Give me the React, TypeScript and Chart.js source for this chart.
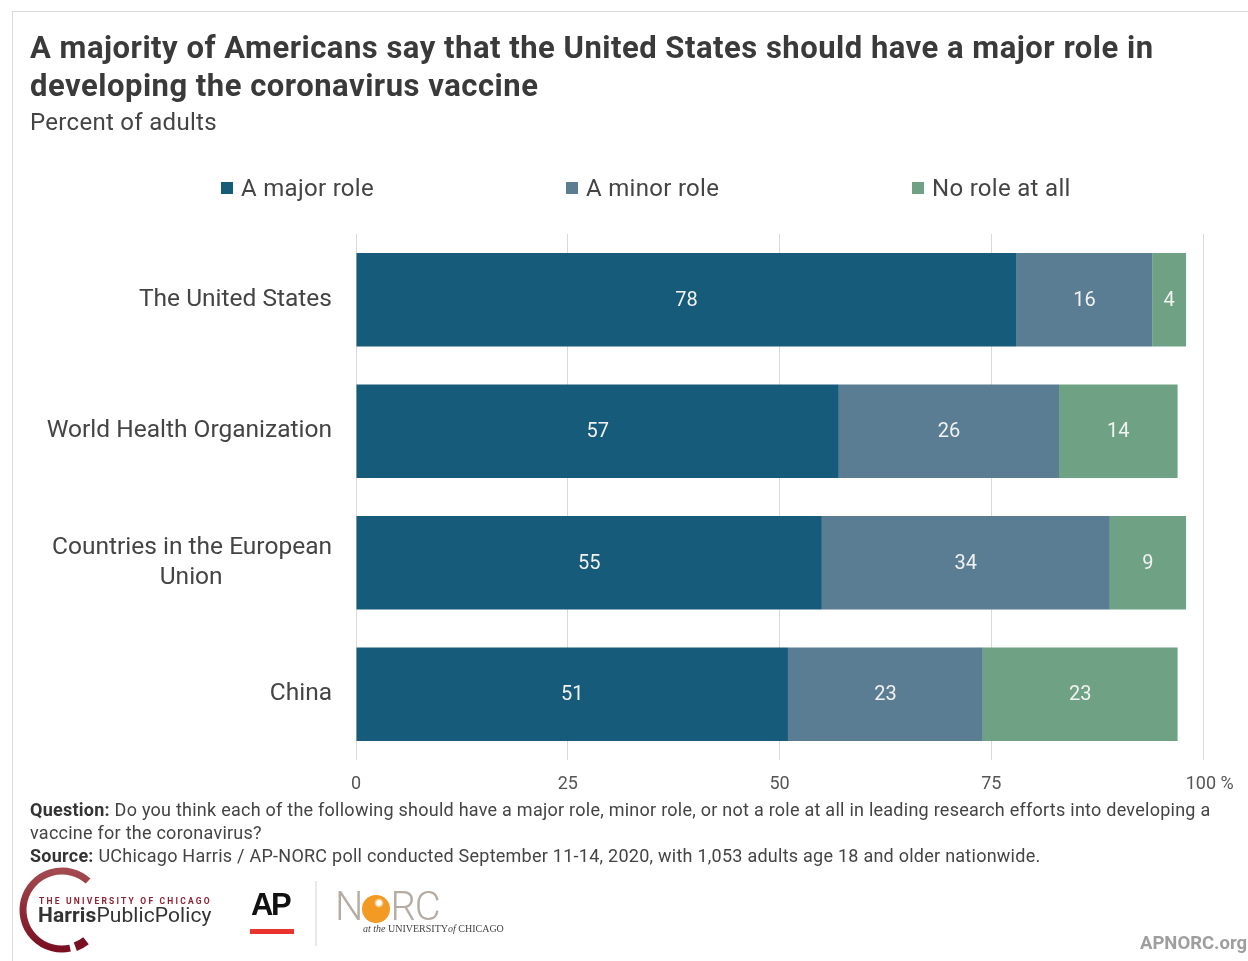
import React, { useEffect, useRef } from "react";
import { Chart, registerables } from "chart.js";

Chart.register(...registerables);

const categories: (string | string[])[] = [
  "The United States",
  "World Health Organization",
  ["Countries in the European", "Union"],
  "China",
];
const seriesNames = ["A major role", "A minor role", "No role at all"];
const majorRole = [78, 57, 55, 51];
const minorRole = [16, 26, 34, 23];
const noRole = [4, 14, 9, 23];
const xTicks = [0, 25, 50, 75, 100];
const colors = ["#175b7b", "#5a7d93", "#6fa285"];

const Y_FONT = "24.5px Roboto";

// center-align the lines of a multi-line label inside a right-aligned block
function centerLines(label: string | string[]): string | string[] {
  if (!Array.isArray(label)) return label;
  const c = document.createElement("canvas").getContext("2d");
  if (!c) return label;
  c.font = Y_FONT;
  const widths = label.map((l) => c.measureText(l).width);
  const maxW = Math.max(...widths);
  const sp = c.measureText(" ").width;
  return label.map((l, i) => l + " ".repeat(Math.max(0, Math.round((maxW - widths[i]) / 2 / sp))));
}

const valueLabels = {
  id: "valueLabels",
  afterDatasetsDraw(chart: any) {
    const ctx = chart.ctx;
    ctx.save();
    ctx.font = "20px Roboto";
    ctx.fillStyle = "#f2f2f2";
    ctx.textAlign = "center";
    ctx.textBaseline = "middle";
    chart.data.datasets.forEach((ds: any, i: number) => {
      const meta = chart.getDatasetMeta(i);
      meta.data.forEach((bar: any, j: number) => {
        const p = bar.getCenterPoint();
        ctx.fillText(String(ds.data[j]), p.x, p.y + 1);
      });
    });
    ctx.restore();
  },
};

function HarrisLogo() {
  const cx = 62, cy = 910, r = 39;
  const pt = (deg: number) => {
    const a = (deg * Math.PI) / 180;
    return [cx + r * Math.cos(a), cy + r * Math.sin(a)];
  };
  const [x1, y1] = pt(-48);
  const [x2, y2] = pt(78);
  const [x3, y3] = pt(70);
  const [x4, y4] = pt(52);
  return (
    <svg width={140} height={100} viewBox="0 860 140 100" style={{ position: "absolute", left: 0, top: 860 }}>
      <defs>
        <linearGradient id="hg" x1="0" y1="0" x2="0" y2="1">
          <stop offset="0" stopColor="#a24a50" />
          <stop offset="1" stopColor="#7a0f22" />
        </linearGradient>
      </defs>
      <path d={`M ${x1} ${y1} A ${r} ${r} 0 1 0 ${x2} ${y2}`} fill="none" stroke="url(#hg)" strokeWidth={7} />
      <path d={`M ${x3} ${y3} A ${r} ${r} 0 0 0 ${x4} ${y4}`} fill="none" stroke="#7a0f22" strokeWidth={9} />
    </svg>
  );
}

export default function App() {
  const canvasRef = useRef<HTMLCanvasElement | null>(null);

  useEffect(() => {
    if (!canvasRef.current) return;
    const chart = new Chart(canvasRef.current, {
      type: "bar",
      data: {
        labels: categories,
        datasets: [
          { label: seriesNames[0], data: majorRole, backgroundColor: colors[0] },
          { label: seriesNames[1], data: minorRole, backgroundColor: colors[1] },
          { label: seriesNames[2], data: noRole, backgroundColor: colors[2] },
        ],
      },
      options: {
        indexAxis: "y",
        animation: false,
        responsive: false,
        maintainAspectRatio: false,
        datasets: { bar: { categoryPercentage: 1, barPercentage: 0.71 } },
        layout: { padding: { top: 234, right: 45, bottom: 161, left: 0 } },
        plugins: { legend: { display: false }, tooltip: { enabled: false }, title: { display: false } },
        scales: {
          x: {
            stacked: true,
            min: 0,
            max: 100,
            afterFit: (s: any) => { s.height = 40; },
            afterBuildTicks: (s: any) => { s.ticks = xTicks.map((v) => ({ value: v })); },
            ticks: {
              padding: 14,
              color: "#555",
              font: { family: "Roboto", size: 18 },
              callback: (v: any) => (Number(v) === 100 ? "   100 %" : String(v)),
            },
            grid: { color: "#d9d9d9", drawTicks: false, lineWidth: 1 },
            border: { display: false },
          },
          y: {
            stacked: true,
            afterFit: (s: any) => { s.width = 356; },
            ticks: {
              padding: 24,
              color: "#444",
              font: { family: "Roboto", size: 24.5, lineHeight: 1.22 },
              callback: (_v: any, i: number) => centerLines(categories[i]),
            },
            grid: { display: false, drawTicks: false },
            border: { display: false },
          },
        },
      },
      plugins: [valueLabels],
    } as any);
    return () => chart.destroy();
  }, []);

  const legendItem = (i: number, left: number) => (
    <div key={i} style={{ position: "absolute", left, top: 175, height: 26, display: "flex", alignItems: "center", whiteSpace: "nowrap" }}>
      <span style={{ width: 12, height: 12, background: colors[i], display: "inline-block", marginRight: 8 }} />
      <span style={{ fontSize: 24, color: "#444", lineHeight: "26px", letterSpacing: 0.3 }}>{seriesNames[i]}</span>
    </div>
  );

  return (
    <div style={{ position: "fixed", left: 0, top: 0, width: 1248, height: 961, background: "#fff", overflow: "hidden", fontFamily: "Roboto, sans-serif" }}>
      <div style={{ position: "absolute", left: 12, top: 11, width: 1300, height: 1000, borderTop: "1px solid #dcdcdc", borderLeft: "1px solid #dcdcdc" }} />
      <canvas ref={canvasRef} width={1248} height={961} style={{ position: "absolute", left: 0, top: 0, width: 1248, height: 961 }} />
      <div style={{ position: "absolute", left: 30, top: 29, fontSize: 31, fontWeight: 700, lineHeight: "38px", color: "#3a3a3a", whiteSpace: "nowrap", letterSpacing: 0.5 }}>
        A majority of Americans say that the United States should have a major role in<br />developing the coronavirus vaccine
      </div>
      <div style={{ position: "absolute", left: 30, top: 111, fontSize: 24, lineHeight: "22px", color: "#444", whiteSpace: "nowrap", letterSpacing: 0.3 }}>
        Percent of adults
      </div>
      {legendItem(0, 221)}
      {legendItem(1, 566)}
      {legendItem(2, 912)}
      <div style={{ position: "absolute", left: 30, top: 798, fontSize: 18, lineHeight: "23px", color: "#444", whiteSpace: "nowrap", letterSpacing: 0.25 }}>
        <b style={{ color: "#333" }}>Question:</b> Do you think each of the following should have a major role, minor role, or not a role at all in leading research efforts into developing a<br />
        vaccine for the coronavirus?<br />
        <b style={{ color: "#333" }}>Source:</b> UChicago Harris / AP-NORC poll conducted September 11-14, 2020, with 1,053 adults age 18 and older nationwide.
      </div>
      <HarrisLogo />
      <div style={{ position: "absolute", left: 39, top: 896, fontSize: 8.5, fontWeight: 700, letterSpacing: 2.2, color: "#8e2231", whiteSpace: "nowrap", lineHeight: "10px" }}>
        THE UNIVERSITY OF CHICAGO
      </div>
      <div style={{ position: "absolute", left: 38, top: 904, fontSize: 21, color: "#333", whiteSpace: "nowrap", lineHeight: "22px", letterSpacing: 0.1 }}>
        <b>Harris</b>PublicPolicy
      </div>
      <div style={{ position: "absolute", left: 251, top: 888, fontSize: 31, fontWeight: 700, fontFamily: "'Liberation Sans', Arial, sans-serif", color: "#111", lineHeight: "34px", letterSpacing: -2.5 }}>
        AP
      </div>
      <div style={{ position: "absolute", left: 250, top: 929, width: 44, height: 5, background: "#e8332f" }} />
      <div style={{ position: "absolute", left: 315, top: 881, width: 2, height: 65, background: "#e8e8e8" }} />
      <div style={{ position: "absolute", left: 335, top: 887, fontSize: 40, fontWeight: 300, color: "#b4aca3", lineHeight: "40px", whiteSpace: "nowrap", display: "flex", alignItems: "center" }}>
        <span>N</span>
        <span style={{ display: "inline-block", width: 28, height: 28, borderRadius: 14, background: "#f39a24", margin: "4px 0 0 -1px", position: "relative" }}>
          <span style={{ position: "absolute", left: 12, top: 3, width: 10, height: 10, borderRadius: 5, background: "radial-gradient(circle, #fff 0 30%, rgba(255,255,255,0) 70%)" }} />
        </span>
        <span style={{ letterSpacing: -1 }}>RC</span>
      </div>
      <div style={{ position: "absolute", left: 363, top: 923, fontSize: 10, fontFamily: "'Liberation Serif', serif", color: "#444", whiteSpace: "nowrap", lineHeight: "12px" }}>
        <i>at the</i> UNIVERSITY<i>of</i> CHICAGO
      </div>
      <div style={{ position: "absolute", left: 1140, top: 933, fontSize: 18.5, fontWeight: 700, color: "#9e9e9e", lineHeight: "20px", whiteSpace: "nowrap" }}>
        APNORC.org
      </div>
    </div>
  );
}
